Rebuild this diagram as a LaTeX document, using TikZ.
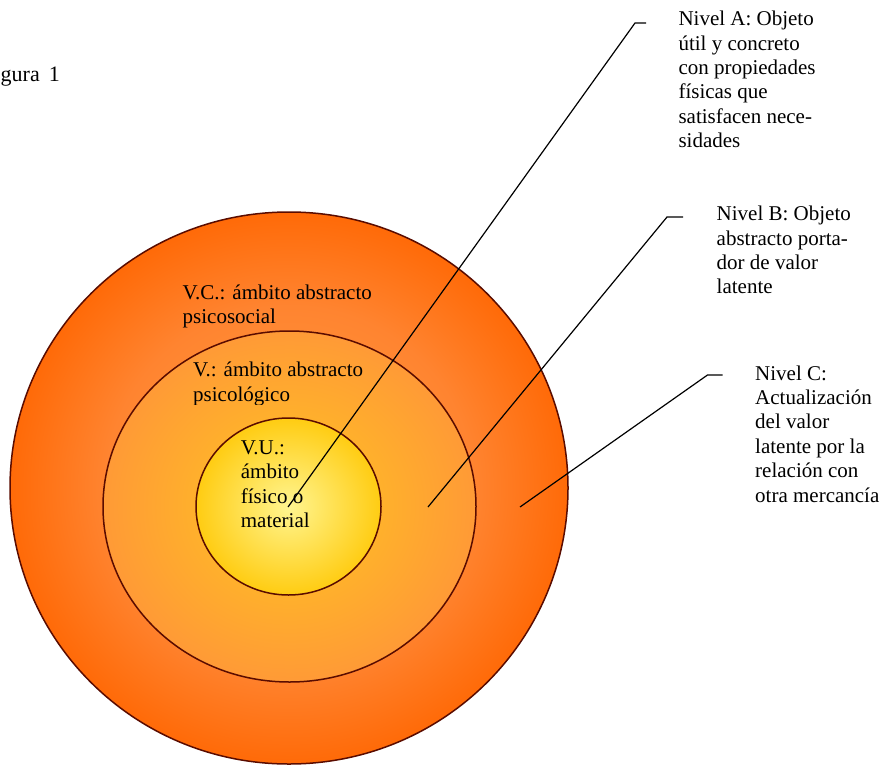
\documentclass[tikz,border=0pt]{standalone}
\usepackage{fontspec}
\setmainfont{Liberation Serif}
\usetikzlibrary{shapes.geometric}
\definecolor{rimcol}{HTML}{5A0C00}
\definecolor{ocA}{HTML}{FFA040}
\definecolor{ocB}{HTML}{FF8430}
\definecolor{ocC}{HTML}{FF6A08}
\definecolor{mcA}{HTML}{FFBA28}
\definecolor{mcM}{HTML}{FFB02C}
\definecolor{mcB}{HTML}{FF9A36}
\definecolor{icA}{HTML}{FFF590}
\definecolor{icB}{HTML}{FFCC12}
% the path's half-width corresponds to 25bp of the shading
\pgfdeclareradialshading{outershade}{\pgfpointorigin}{color(0bp)=(ocA); color(16.5bp)=(ocB); color(25bp)=(ocC); color(50bp)=(ocC)}
\pgfdeclareradialshading{midshade}{\pgfpointorigin}{color(0bp)=(mcA); color(12.5bp)=(mcM); color(25bp)=(mcB); color(50bp)=(mcB)}
\pgfdeclareradialshading{innershade}{\pgfpointorigin}{color(0bp)=(icA); color(25bp)=(icB); color(50bp)=(icB)}
\newcommand{\stk}[1]{\vtop{\halign{##\hfil\cr#1\crcr}}}
\tikzset{
  ring/.style={ellipse, draw=rimcol, line width=1.5pt, inner sep=0pt},
  txt/.style={anchor=base west, inner sep=0pt, font=\fontsize{21}{24.4}\selectfont},
  conn/.style={draw=black, line width=1.2pt}
}
\begin{document}
\begin{tikzpicture}[x=1pt,y=-1pt]
\useasboundingbox (0,0) rectangle (882,765);
% circles
\node[ring, shading=outershade, minimum width=558pt, minimum height=552pt] (outer) at (289,488) {};
\node[ring, shading=midshade, minimum width=373pt, minimum height=351pt] (mid) at (289.5,506.5) {};
\node[ring, shading=innershade, minimum width=185pt, minimum height=177pt] (inner) at (288.5,506.5) {};
% texts
\node[txt, font=\fontsize{22}{25}\selectfont] (fig) at (0.5,82) {gura\hspace{9pt}1};
\node[txt] (vc) at (182.5,299) {\stk{V.C.: ámbito abstracto\cr psicosocial}};
\begin{scope}
\clip (180,350) rectangle (400,404.5);
\node[txt] (v) at (193,376.7) {\stk{V.: ámbito abstracto\cr psicológico}};
\end{scope}
\node[txt] (vu) at (240.7,454.3) {\stk{V.U.:\cr ámbito\cr físico o\cr material}};
\node[txt] (na) at (678.3,25.7) {\stk{Nivel A: Objeto\cr útil y concreto\cr con propiedades\cr físicas que\cr satisfacen nece-\cr sidades}};
\node[txt] (nb) at (716.5,220.7) {\stk{Nivel B: Objeto\cr abstracto porta-\cr dor de valor\cr latente}};
\node[txt] (nc) at (755,380) {\stk{Nivel C:\cr Actualización\cr del valor\cr latente por la\cr relación con\cr otra mercancía}};
% connectors
\coordinate (a0) at (288,507);
\coordinate (a1) at (635,23);
\coordinate (a2) at (646,23);
\coordinate (b0) at (428,507);
\coordinate (b1) at (667,217);
\coordinate (b2) at (683,217);
\coordinate (c0) at (520,507);
\coordinate (c1) at (707.5,375);
\coordinate (c2) at (722.5,375);
\draw[conn] (a0) -- (a1) -- (a2);
\draw[conn] (b0) -- (b1) -- (b2);
\draw[conn] (c0) -- (c1) -- (c2);
\end{tikzpicture}
\end{document}
